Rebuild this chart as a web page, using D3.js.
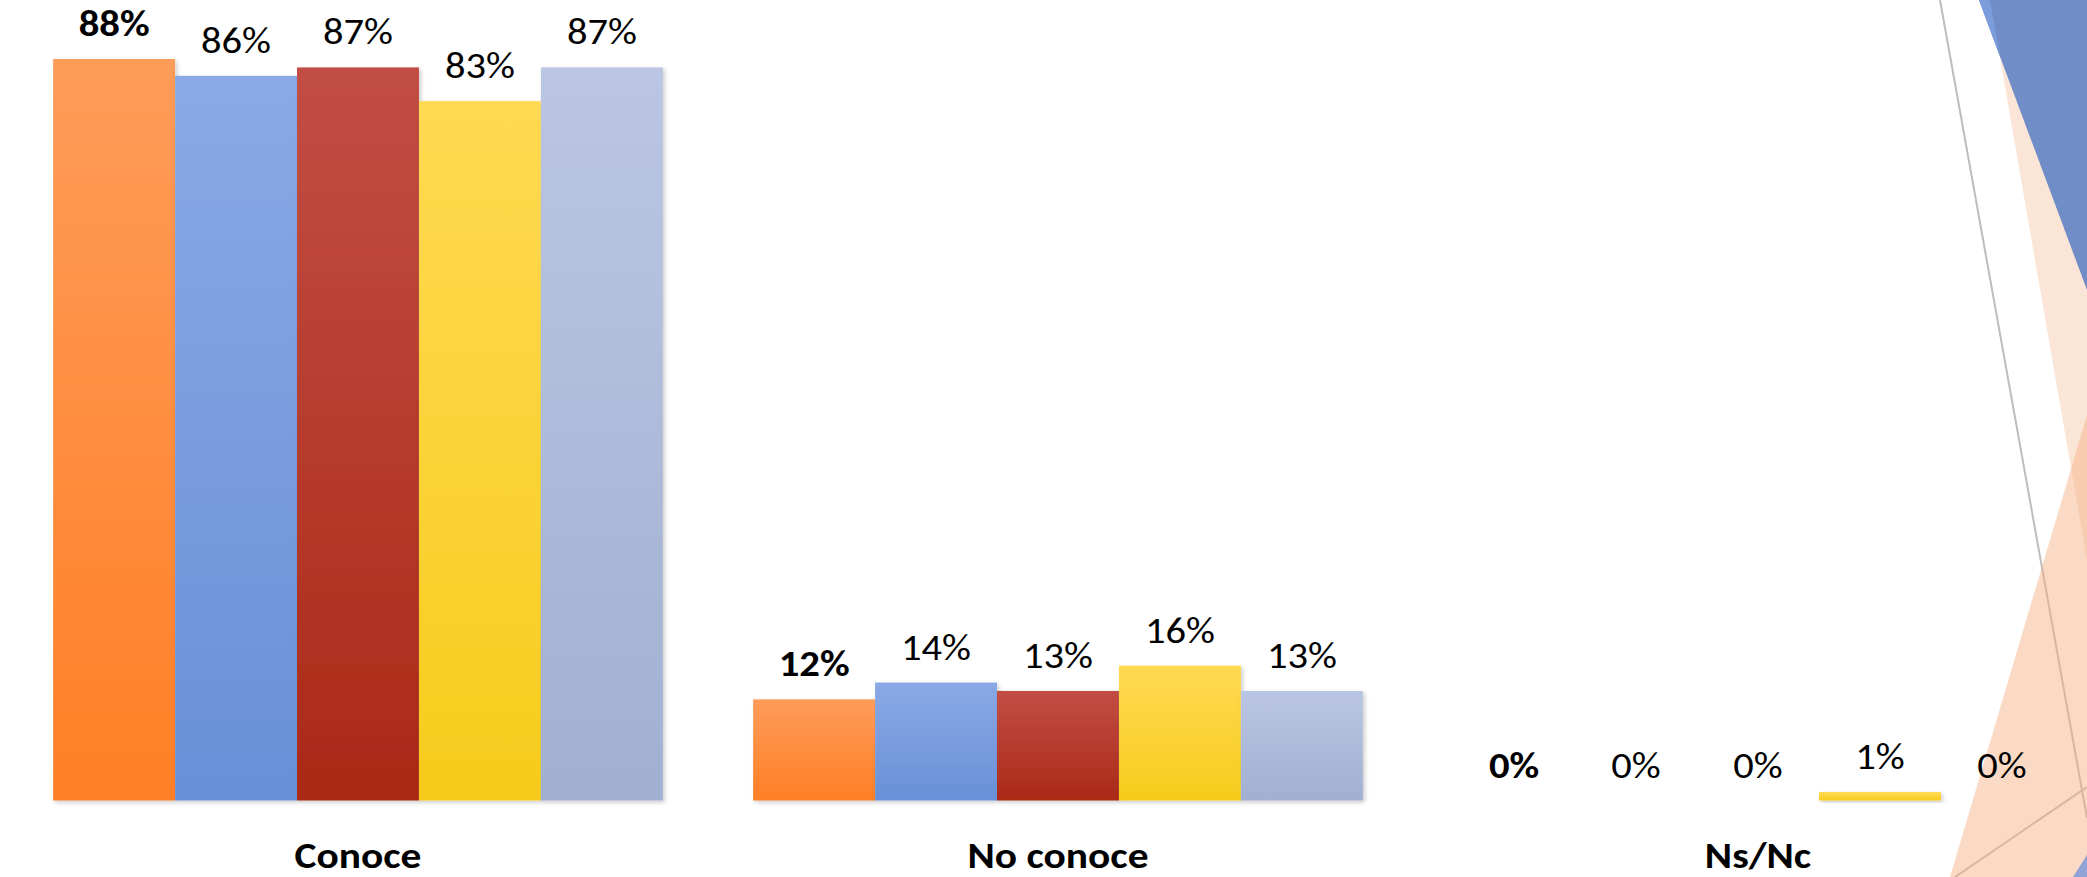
<!DOCTYPE html>
<html>
<head>
<meta charset="utf-8">
<script src="https://cdn.jsdelivr.net/npm/d3@7"></script>
<style>
  html, body { margin: 0; padding: 0; background: #ffffff; }
  svg { display: block; }
</style>
</head>
<body>
<svg id="chart" width="2087" height="877"></svg>
<script>
// ---- Data ----
const categories = ["Conoce", "No conoce", "Ns/Nc"];
const seriesNames = ["Serie 1", "Serie 2", "Serie 3", "Serie 4", "Serie 5"];
const serie1 = [0.88, 0.12, 0.00];
const serie2 = [0.86, 0.14, 0.00];
const serie3 = [0.87, 0.13, 0.00];
const serie4 = [0.83, 0.16, 0.01];
const serie5 = [0.87, 0.13, 0.00];
const seriesValues = [serie1, serie2, serie3, serie4, serie5];
const boldSeries = ["Serie 1"];

// ---- Styles ----
const gradTop    = ["#FF9C59", "#8AA9E5", "#C24E44", "#FFDA52", "#BAC6E3"];
const gradBottom = ["#FF7F26", "#6890D8", "#AA2917", "#F6CC1C", "#A1B0D1"];
const FONT = "Carlito, Calibri, Lato, 'Open Sans', sans-serif";

const W = 2087, H = 877;
const svg = d3.select("#chart");
const defs = svg.append("defs");

seriesNames.forEach((s, i) => {
  const g = defs.append("linearGradient").attr("id", "grad" + i)
    .attr("x1", 0).attr("y1", 0).attr("x2", 0).attr("y2", 1);
  g.append("stop").attr("offset", "0%").attr("stop-color", gradTop[i]);
  g.append("stop").attr("offset", "100%").attr("stop-color", gradBottom[i]);
});
const sh = defs.append("filter").attr("id", "shadow")
  .attr("x", "-10%").attr("y", "-10%").attr("width", "130%").attr("height", "130%");
sh.append("feDropShadow").attr("dx", 2).attr("dy", 2).attr("stdDeviation", 2)
  .attr("flood-color", "#000").attr("flood-opacity", 0.2);
const ash = defs.append("filter").attr("id", "ashadow")
  .attr("x", "-5%").attr("y", "-200%").attr("width", "110%").attr("height", "500%");
ash.append("feDropShadow").attr("dx", 0).attr("dy", 2).attr("stdDeviation", 1.5)
  .attr("flood-color", "#000").attr("flood-opacity", 0.25);

// ---- Background decoration (slide theme) ----
const deco = svg.append("g").attr("class", "decoration");
deco.append("line").attr("x1", 1940).attr("y1", 0).attr("x2", 2087).attr("y2", 818)
  .attr("stroke", "#BDBDBD").attr("stroke-width", 2);
deco.append("line").attr("x1", 1955).attr("y1", 877).attr("x2", 2087).attr("y2", 787)
  .attr("stroke", "#BDBDBD").attr("stroke-width", 2);
deco.append("polygon").attr("points", "1990,0 2087,0 2087,560")
  .attr("fill", "#F4B183").attr("opacity", 0.33);
deco.append("polygon").attr("points", "2087,415 2087,877 1950,877")
  .attr("fill", "#F4B183").attr("opacity", 0.47);
deco.append("polygon").attr("points", "1979,0 2087,0 2087,290")
  .attr("fill", "#718DC8");
deco.append("polygon").attr("points", "1979,0 1990,0 2000,57")
  .attr("fill", "#7B9DDB");
deco.append("polygon").attr("points", "2087,855 2087,877 2073,877")
  .attr("fill", "#8FA3D6");

// ---- Scales ----
const x0 = d3.scaleBand().domain(categories).range([8, 2108])
  .paddingInner(0.129).paddingOuter(0.0645);
const x1 = d3.scaleBand().domain(seriesNames).range([0, x0.bandwidth()]).padding(0);
const y = d3.scaleLinear().domain([0, 0.95]).range([800.5, 0]);
const fmt = d3.format(".0%");

const data = categories.map((c, ci) => ({
  cat: c,
  vals: seriesNames.map((s, si) => ({ s, si, v: seriesValues[si][ci] }))
}));

// ---- Bars ----
const groups = svg.append("g").selectAll("g.grp").data(data).join("g")
  .attr("class", "grp")
  .attr("transform", d => `translate(${x0(d.cat)},0)`);

groups.selectAll("rect").data(d => d.vals.filter(v => v.v > 0)).join("rect")
  .attr("x", d => x1(d.s))
  .attr("y", d => y(d.v))
  .attr("width", x1.bandwidth())
  .attr("height", d => y(0) - y(d.v))
  .attr("fill", d => `url(#grad${d.si})`)
  .attr("filter", "url(#shadow)");

// ---- Axis baseline ----
svg.append("line").attr("x1", 9).attr("x2", W).attr("y1", y(0)).attr("y2", y(0))
  .attr("stroke", "#8A8A8A").attr("stroke-width", 2.5).attr("filter", "url(#ashadow)");

// ---- Value labels ----
function measure(txt, size, weight) {
  const t = svg.append("text").attr("font-family", FONT).attr("font-size", size)
    .attr("font-weight", weight).text(txt);
  const w = t.node().getComputedTextLength();
  t.remove();
  return w;
}
const valSize = 36, catSize = 36;
const sxReg = 70 / measure("86%", valSize, "normal");
const sxBold = 71 / measure("88%", valSize, "bold");
const sxCat = 127 / measure("Conoce", catSize, "bold");

groups.selectAll("text.val").data(d => d.vals).join("text")
  .attr("class", "val")
  .attr("transform", d => {
    const sx = boldSeries.includes(d.s) ? sxBold : sxReg;
    return `translate(${x1(d.s) + x1.bandwidth() / 2},${y(d.v) - 23}) scale(${sx},1)`;
  })
  .attr("text-anchor", "middle")
  .attr("font-family", FONT)
  .attr("font-size", valSize)
  .attr("font-weight", d => boldSeries.includes(d.s) ? "bold" : "normal")
  .attr("fill", "#000")
  .text(d => fmt(d.v));

// ---- Category axis ----
const xAxis = svg.append("g").attr("transform", "translate(0,868)")
  .call(d3.axisBottom(x0).tickSize(0));
xAxis.select(".domain").remove();
xAxis.selectAll("text")
  .attr("y", 0).attr("dy", 0)
  .attr("transform", `scale(${sxCat},1)`)
  .attr("font-family", FONT)
  .attr("font-size", catSize)
  .attr("font-weight", "bold")
  .attr("fill", "#000");
</script>
</body>
</html>
